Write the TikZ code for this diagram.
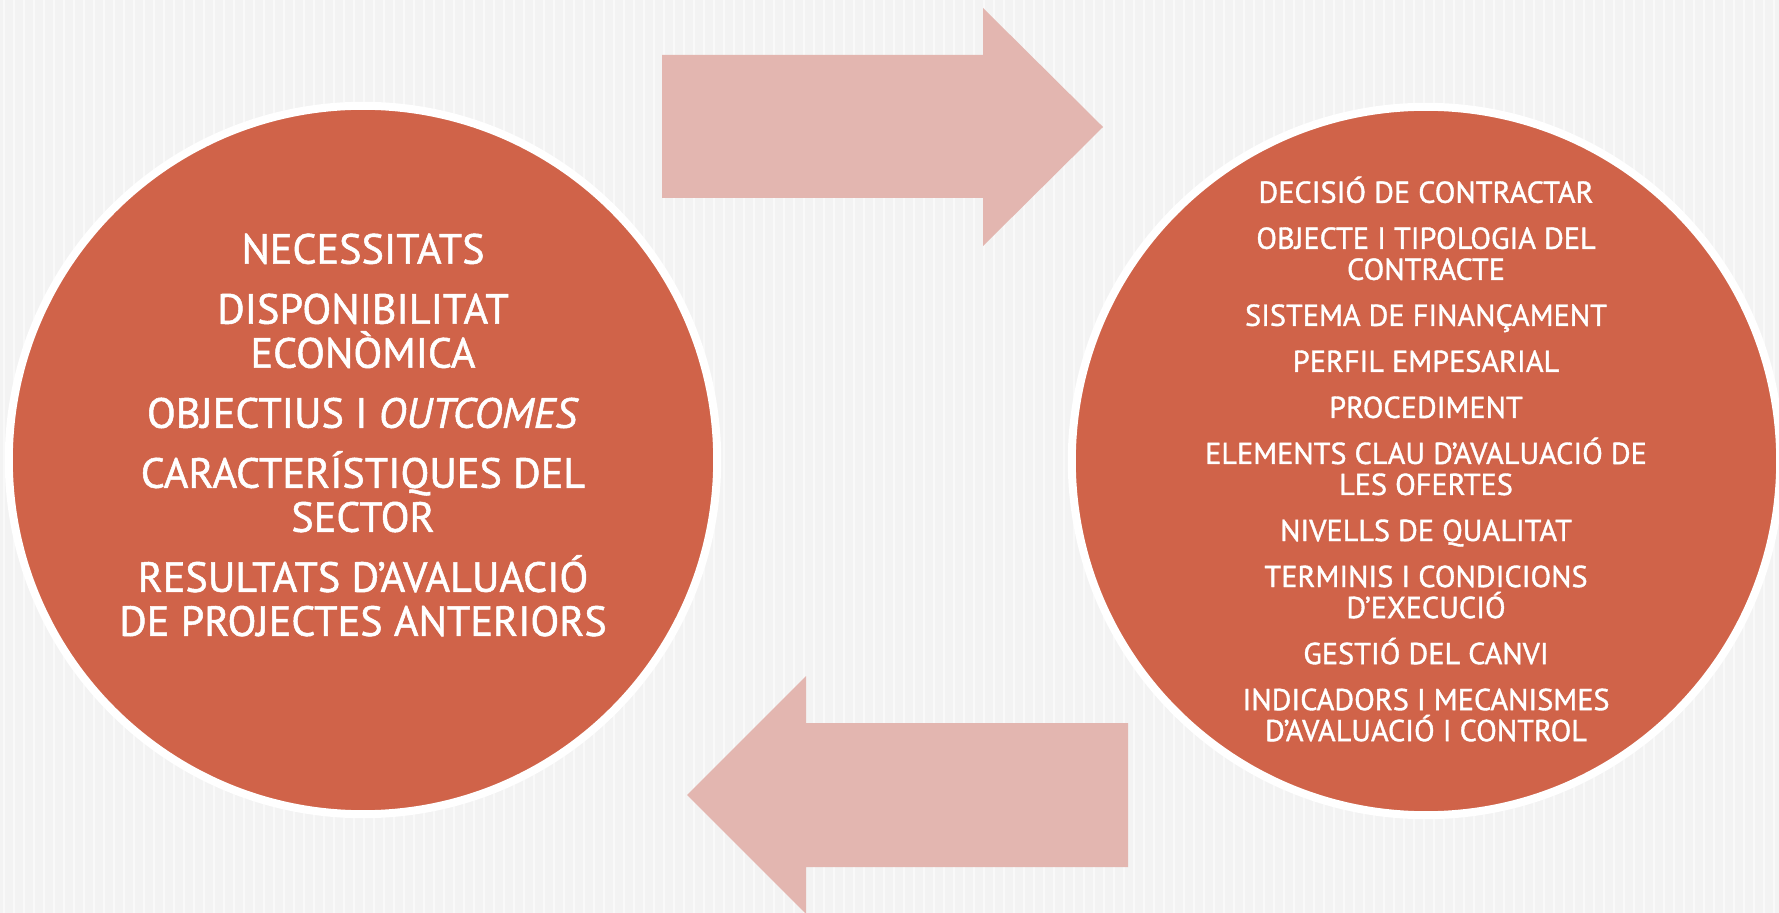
\documentclass[tikz,border=0pt]{standalone}
\usepackage{fontspec}
\setmainfont{PT Sans}[RawFeature={embolden=1.2}]
\usetikzlibrary{positioning}
\definecolor{rovell}{RGB}{208,99,73}
\definecolor{rosat}{RGB}{227,182,176}
\definecolor{fons}{RGB}{243,243,243}

\begin{document}
\begin{tikzpicture}[
        x=0.01cm, y=-0.01cm,
        cercle/.style={circle, fill=rovell, draw=white, line width=0.08cm, minimum size=7.08cm, inner sep=0pt},
        llista/.style={align=center, text=white, inner sep=0pt},
        fletxa/.style={fill=rosat}
    ]
    \useasboundingbox (0,0) rectangle (1779,913);
    \fill[fons] (0,0) rectangle (1779,913);
    \foreach \x in {4,14,...,1774}
        \draw[white, opacity=0.5, line width=0.015cm] (\x,0) -- (\x,913);

    \node[cercle] (esq) at (363,460) {};
    \node[cercle] (dre) at (1426,461) {};

    % fletxes
    \fill[fletxa] (662,55) -- (983,55) -- (983,8) -- (1103,127) -- (983,246) -- (983,198) -- (662,198) -- cycle;
    \fill[fletxa] (1128,723) -- (806,723) -- (806,676) -- (687,795) -- (806,914) -- (806,867) -- (1128,867) -- cycle;

    \node[llista, font=\fontsize{12pt}{12.52pt}\selectfont] (necessitats) at (363,435)
        {NECESSITATS\\[4.55pt]
         DISPONIBILITAT\\ECONÒMICA\\[4.55pt]
         OBJECTIUS I \textit{OUTCOMES}\\[4.55pt]
         CARACTERÍSTIQUES DEL\\SECTOR\\[4.55pt]
         RESULTATS D’AVALUACIÓ\\DE PROJECTES ANTERIORS};

    \node[llista, font=\fontsize{8.6pt}{8.82pt}\selectfont] (contracte) at (1426,459)
        {DECISIÓ DE CONTRACTAR\\[4.27pt]
         OBJECTE I TIPOLOGIA DEL\\CONTRACTE\\[4.27pt]
         SISTEMA DE FINANÇAMENT\\[4.27pt]
         PERFIL EMPESARIAL\\[4.27pt]
         PROCEDIMENT\\[4.27pt]
         ELEMENTS CLAU D’AVALUACIÓ DE\\LES OFERTES\\[4.27pt]
         NIVELLS DE QUALITAT\\[4.27pt]
         TERMINIS I CONDICIONS\\D’EXECUCIÓ\\[4.27pt]
         GESTIÓ DEL CANVI\\[4.27pt]
         INDICADORS I MECANISMES\\D’AVALUACIÓ I CONTROL};
\end{tikzpicture}
\end{document}
